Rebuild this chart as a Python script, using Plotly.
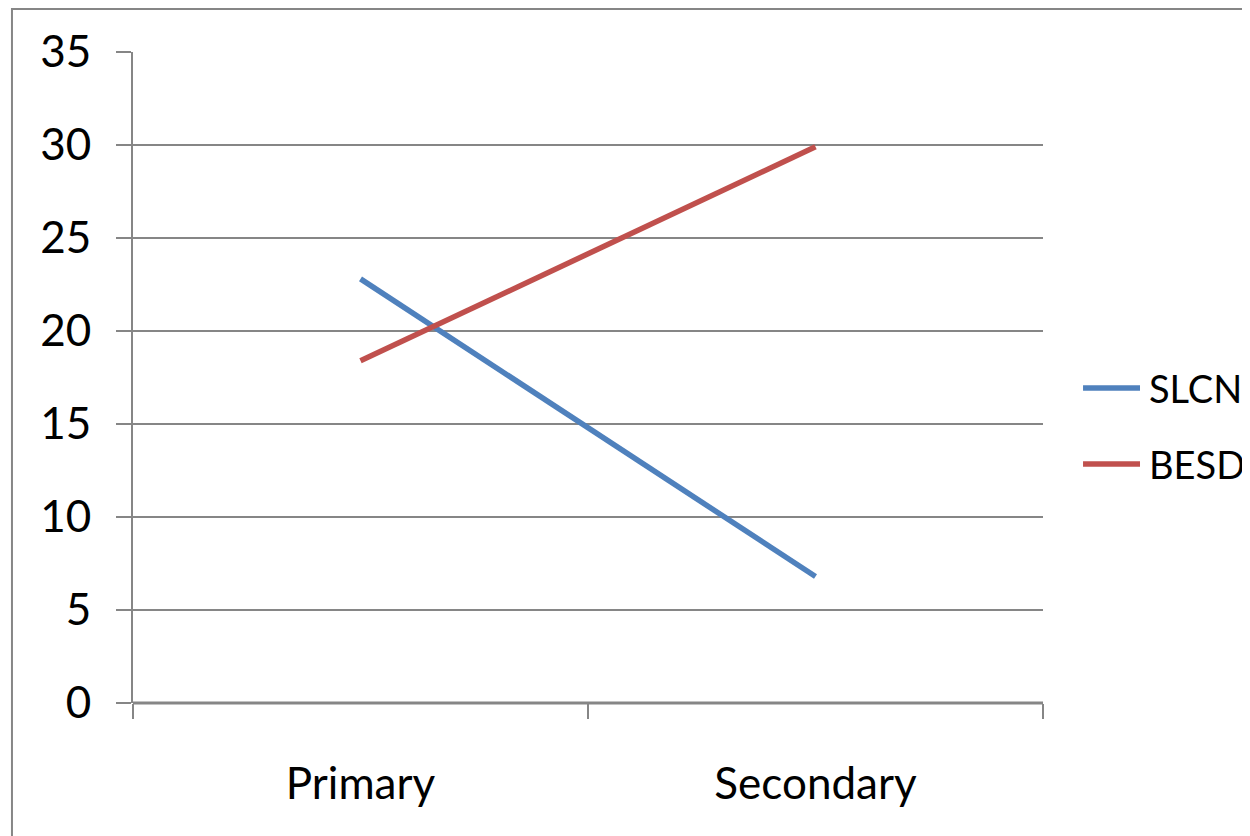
import plotly.graph_objects as go

categories = ["Primary", "Secondary"]
series_names = ["SLCN", "BESD"]
slcn = [22.8, 6.8]
besd = [18.4, 29.9]
y_ticks = [0, 5, 10, 15, 20, 25, 30, 35]
colors = ["#4F81BD", "#C0504D"]

FONT = "Lato, Carlito, Calibri, 'Open Sans', sans-serif"
GRID = "#868686"
FS = 44
LEG_FS = 38

fig = go.Figure()
for name, vals, col in zip(series_names, [slcn, besd], colors):
    fig.add_trace(go.Scatter(x=categories, y=vals, mode="lines", name=name,
                             showlegend=False,
                             line=dict(color=col, width=5.5)))

# manual legend (longer line samples like the reference)
legend_y = [0.4839, 0.3671]
shapes = [
    dict(type="rect", xref="paper", yref="paper",
         x0=-0.133, x1=1.4, y0=-0.4, y1=1.066,
         line=dict(color=GRID, width=2), layer="below"),
    dict(type="line", xref="paper", yref="paper",
         x0=0, x1=1, y0=0, y1=0,
         line=dict(color=GRID, width=3)),
]
annotations = []
for name, col, ly in zip(series_names, colors, legend_y):
    shapes.append(dict(type="line", xref="paper", yref="paper",
                       x0=1.044, x1=1.1066, y0=ly, y1=ly,
                       line=dict(color=col, width=5.5)))
    annotations.append(dict(xref="paper", yref="paper", x=1.1143, y=ly,
                            xanchor="left", yanchor="middle", text=name,
                            showarrow=False, font=dict(size=LEG_FS)))

fig.update_layout(
    width=1250, height=836,
    margin=dict(l=125, r=215, t=44, b=141),
    paper_bgcolor="white", plot_bgcolor="white",
    font=dict(family=FONT, size=FS, color="black"),
    showlegend=False,
    xaxis=dict(type="category", tickson="boundaries", range=[-0.5, 1.5],
               showgrid=False, showline=False, zeroline=False,
               ticks="outside", ticklen=15, tickwidth=2, tickcolor=GRID,
               ticklabelstandoff=51, tickfont=dict(size=FS)),
    yaxis=dict(range=[0, 35], tickvals=y_ticks, showgrid=True, gridcolor=GRID,
               gridwidth=2, showline=True, linecolor=GRID, linewidth=2,
               zeroline=False, ticks="outside", ticklen=15, tickwidth=2,
               tickcolor=GRID, ticklabelstandoff=16, tickfont=dict(size=FS)),
    shapes=shapes,
    annotations=annotations,
)

fig.write_html("out.html")
